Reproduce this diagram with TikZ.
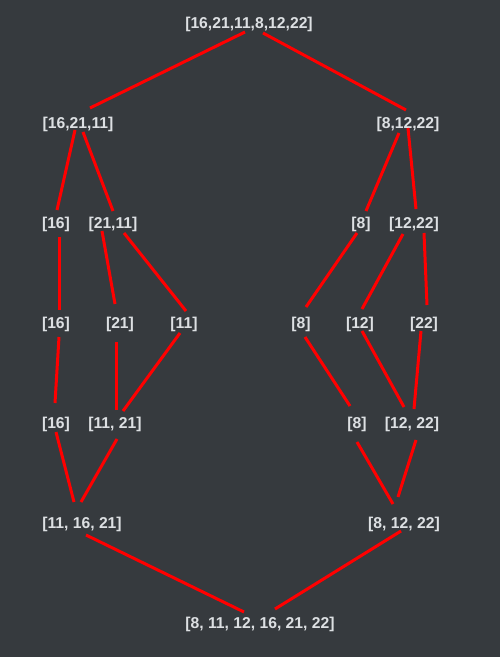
\documentclass[tikz,border=0pt]{standalone}
\usepackage{fontspec}
\setmainfont{Liberation Sans}
\definecolor{bgc}{HTML}{363A3E}
\definecolor{txc}{HTML}{DDE0E3}
\definecolor{edc}{HTML}{FF0000}
\newcommand\myedge[6]{\draw[edgeline] ([shift={(#2,#3-2)}]#1.center) -- ([shift={(#5,#6-2)}]#4.center);}
\begin{document}
\begin{tikzpicture}[x=1pt,y=-1pt,
  lbl/.style={inner sep=0pt,yshift=-2pt,text=txc,font=\fontsize{15.7}{18}\selectfont\bfseries},
  edgeline/.style={draw=edc,line width=3pt}]
\fill[bgc] (0,0) rectangle (500,657);
\useasboundingbox (0,0) rectangle (500,657);
% nodes
\node[lbl] (root) at (249,22) {[16,21,11,8,12,22]};
\node[lbl] (la) at (78,122) {[16,21,11]};
\node[lbl] (ra) at (408,122) {[8,12,22]};
\node[lbl] (a3) at (56,222) {[16]};
\node[lbl] (b3) at (113,222) {[21,11]};
\node[lbl] (c3) at (361,222) {[8]};
\node[lbl] (d3) at (414,222) {[12,22]};
\node[lbl] (a4) at (56,322) {[16]};
\node[lbl] (b4) at (120,322) {[21]};
\node[lbl] (c4) at (184,322) {[11]};
\node[lbl] (d4) at (301,322) {[8]};
\node[lbl] (e4) at (360,322) {[12]};
\node[lbl] (f4) at (424,322) {[22]};
\node[lbl] (a5) at (56,422) {[16]};
\node[lbl] (b5) at (115,422) {[11, 21]};
\node[lbl] (c5) at (357,422) {[8]};
\node[lbl] (d5) at (412,422) {[12, 22]};
\node[lbl] (a6) at (82,522) {[11, 16, 21]};
\node[lbl] (b6) at (404,522) {[8, 12, 22]};
\node[lbl] (bot) at (260,622) {[8, 11, 12, 16, 21, 22]};
% edges
\myedge{root}{-4}{10}{la}{12}{-14}
\myedge{root}{14}{11}{ra}{-2}{-12}
\myedge{la}{-3}{8}{a3}{1}{-12}
\myedge{la}{5}{10}{b3}{0}{-11}
\myedge{ra}{-9}{11}{c3}{5}{-11}
\myedge{ra}{0}{6}{d3}{2}{-13}
\myedge{a3}{3}{15}{a4}{3}{-12}
\myedge{b3}{-11}{9}{b4}{-5}{-18}
\myedge{b3}{11}{11}{c4}{2}{-11}
\myedge{c3}{-4}{11}{d4}{5}{-15}
\myedge{d3}{-11}{12}{e4}{2}{-13}
\myedge{d3}{10}{11}{f4}{3}{-17}
\myedge{a4}{3}{15}{a5}{-1}{-19}
\myedge{b4}{-4}{20}{b5}{1}{-12}
\myedge{c4}{-4}{11}{b5}{8}{-11}
\myedge{d4}{4}{15}{c5}{-7}{-16}
\myedge{e4}{2}{9}{d5}{-8}{-15}
\myedge{f4}{-3}{9}{d5}{2}{-13}
\myedge{a5}{0}{10}{a6}{-8}{-20}
\myedge{b5}{2}{17}{a6}{-1}{-20}
\myedge{c5}{0}{20}{b6}{-11}{-18}
\myedge{d5}{4}{18}{b6}{-6}{-25}
\myedge{a6}{4}{13}{bot}{-16}{-10}
\myedge{b6}{-3}{9}{bot}{15}{-13}
\end{tikzpicture}
\end{document}
